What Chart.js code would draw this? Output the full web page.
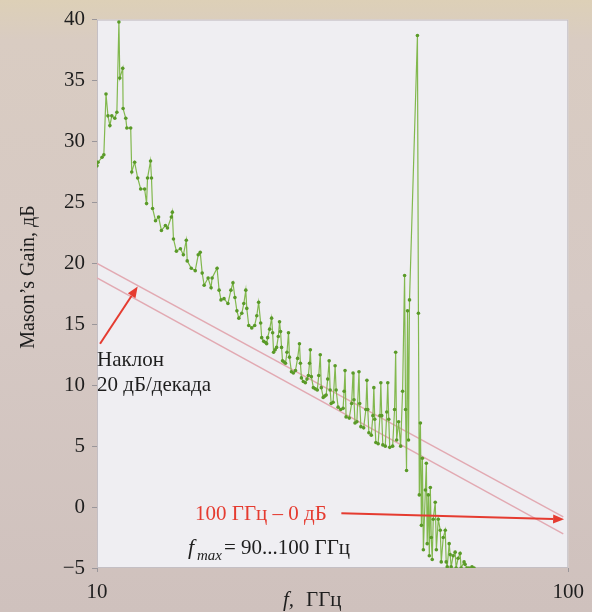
<!DOCTYPE html>
<html>
<head>
<meta charset="utf-8">
<script src="https://cdn.jsdelivr.net/npm/chart.js@4"></script>
<style>
  html, body { margin: 0; padding: 0; }
  body {
    width: 592px; height: 612px; overflow: hidden;
    background: linear-gradient(#ddd0b7 0px, #d9ccc2 40px, #d6c9c4 300px, #cfc1bd 612px);
  }
  #wrap { position: relative; width: 592px; height: 612px; }
</style>
</head>
<body>
<div id="wrap"><canvas id="gainChart" width="592" height="612"></canvas></div>
<script>
// Mason's gain vs frequency
const freqGHz = [
  10.0, 10.05, 10.25, 10.34, 10.45, 10.55, 10.65, 10.75, 10.91, 11.02,
  11.13, 11.18, 11.34, 11.36, 11.51, 11.57, 11.79, 11.85, 12.02, 12.20,
  12.38, 12.62, 12.74, 12.80, 12.99, 13.05, 13.12, 13.31, 13.51, 13.70,
  13.97, 14.11, 14.38, 14.45, 14.53, 14.74, 15.03, 15.25, 15.47, 15.54,
  15.85, 16.16, 16.40, 16.56, 16.72, 16.88, 17.21, 17.46, 17.55, 17.98,
  18.16, 18.33, 18.60, 18.96, 19.24, 19.43, 19.62, 19.81, 20.00, 20.29,
  20.49, 20.69, 20.79, 20.99, 21.30, 21.61, 21.83, 22.03, 22.25, 22.36,
  22.58, 22.80, 22.91, 23.02, 23.25, 23.47, 23.59, 23.70, 23.88, 24.05,
  24.25, 24.40, 24.52, 24.64, 24.76, 24.95, 25.12, 25.30, 25.49, 25.61,
  25.86, 26.10, 26.37, 26.65, 26.89, 27.02, 27.15, 27.40, 27.68, 27.90,
  28.09, 28.25, 28.36, 28.50, 28.78, 29.05, 29.34, 29.55, 29.77, 29.92,
  30.20, 30.42, 30.64, 30.87, 31.09, 31.24, 31.40, 31.70, 32.01, 32.17,
  32.48, 32.90, 33.28, 33.45, 33.60, 33.77, 34.30, 34.70, 34.94, 35.10,
  35.28, 35.60, 35.97, 36.10, 36.31, 36.80, 37.20, 37.39, 37.55, 37.75,
  38.20, 38.50, 38.68, 38.85, 39.06, 39.50, 39.85, 40.02, 40.20, 40.41,
  40.90, 41.20, 41.40, 41.60, 41.80, 42.40, 42.80, 43.03, 43.24, 43.66,
  44.09, 44.51, 44.95, 45.16, 45.38, 45.60, 45.82, 46.04, 47.86, 48.09,
  48.30, 48.56, 48.80, 49.03, 49.27, 49.75, 49.99, 50.20, 50.48, 50.72,
  50.97, 51.20, 51.45, 51.70, 52.21, 52.50, 52.99, 53.51, 53.77, 54.29,
  54.83, 55.08, 55.36, 55.89, 56.16, 56.43, 56.98, 57.54, 57.82, 58.38,
  58.95, 59.24, 60.10, 60.39, 60.98, 61.58, 62.48, 63.10
];

const gainDb = [
  28.0, 28.3, 28.7, 28.9, 33.9, 32.1, 31.3, 32.1, 31.9, 32.4,
  39.8, 35.2, 36.0, 32.7, 31.9, 31.1, 31.1, 27.5, 28.3, 27.0,
  26.1, 26.1, 24.9, 27.0, 28.4, 27.0, 24.5, 23.5, 23.8, 22.7,
  23.1, 22.9, 23.8, 24.2, 22.0, 21.0, 21.2, 20.7, 21.9, 20.2,
  19.6, 19.4, 20.7, 20.9, 19.2, 18.2, 18.8, 18.0, 18.8, 19.6,
  17.8, 17.0, 17.1, 16.7, 17.8, 18.4, 17.2, 16.1, 15.5, 15.9,
  16.7, 17.8, 16.3, 14.9, 14.7, 14.9, 15.7, 16.8, 15.1, 13.9,
  13.6, 13.5, 13.4, 13.9, 14.6, 15.5, 14.3, 12.7, 12.9, 13.1,
  14.0, 15.2, 14.4, 13.1, 12.0, 11.9, 11.8, 12.7, 14.3, 12.3,
  11.1, 11.0, 11.2, 12.2, 13.4, 11.8, 10.6, 10.3, 10.2, 10.5,
  10.8, 11.8, 12.9, 10.7, 9.8, 9.7, 9.6, 10.8, 12.5, 9.8,
  9.0, 9.1, 9.2, 10.5, 12.0, 9.6, 8.5, 8.6, 11.6, 9.6,
  8.2, 8.0, 8.1, 9.5, 11.2, 7.4, 7.3, 8.5, 11.0, 8.8,
  6.9, 7.0, 11.1, 8.5, 6.6, 6.5, 8.0, 10.4, 8.0, 6.1,
  5.9, 7.5, 9.8, 7.2, 5.3, 5.2, 7.5, 10.2, 7.5, 5.1,
  5.0, 7.8, 10.2, 7.2, 4.9, 5.0, 8.0, 12.7, 5.5, 7.0,
  5.0, 9.5, 19.0, 8.0, 3.0, 16.1, 5.5, 17.0, 38.7, 15.9,
  1.0, 6.9, -1.5, 4.0, -3.5, 1.4, 3.6, -3.0, 1.0, -4.0,
  1.6, -2.5, -4.3, -1.0, 0.4, -3.5, -1.0, -1.9, -4.5, -2.5,
  -1.9, -4.5, -4.9, -3.0, -3.9, -4.9, -4.0, -3.7, -5.0, -4.2,
  -3.8, -5.0, -4.5, -4.7, -5.0, -5.0, -4.9, -5.0
];

// two -20 dB/decade guide lines: [GHz, dB]
const slopeUpper = [[10, 20.0], [97.6, -0.8]];
const slopeLower = [[10, 18.8], [97.6, -2.2]];

// red arrows: [from, to] in [GHz, dB]
const slopeArrow = [[10.15, 13.4], [12.2, 18.1]];
const zeroArrow = [[33.0, -0.5], [98.0, -1.0]];

const xTickValues = [10, 100];
const yMin = -5, yMax = 40, yStep = 5;

const serif = '"Liberation Serif", "DejaVu Serif", serif';
const red = '#e53b30';

const toPoints = (pairs) => pairs.map(p => ({ x: p[0], y: p[1] }));

const gainPoints = [];
for (let i = 0; i < Math.min(freqGHz.length, gainDb.length); i++) {
  gainPoints.push({ x: freqGHz[i], y: gainDb[i] });
}

const drawArrow = (ctx, x1, y1, x2, y2, color) => {
  const ang = Math.atan2(y2 - y1, x2 - x1);
  const head = 11, half = 4.5;
  ctx.strokeStyle = color;
  ctx.fillStyle = color;
  ctx.lineWidth = 2;
  ctx.beginPath();
  ctx.moveTo(x1, y1);
  ctx.lineTo(x2 - head * Math.cos(ang), y2 - head * Math.sin(ang));
  ctx.stroke();
  ctx.beginPath();
  ctx.moveTo(x2, y2);
  ctx.lineTo(x2 - head * Math.cos(ang) + half * Math.sin(ang), y2 - head * Math.sin(ang) - half * Math.cos(ang));
  ctx.lineTo(x2 - head * Math.cos(ang) - half * Math.sin(ang), y2 - head * Math.sin(ang) + half * Math.cos(ang));
  ctx.closePath();
  ctx.fill();
};

// plot background
const plotBackground = {
  id: 'plotBackground',
  beforeDraw(chart) {
    const { ctx, chartArea: a } = chart;
    ctx.save();
    ctx.fillStyle = '#efeef2';
    ctx.fillRect(a.left, a.top, a.right - a.left, a.bottom - a.top);
    ctx.strokeStyle = '#c4bfc4';
    ctx.lineWidth = 1;
    ctx.strokeRect(a.left + 0.5, a.top + 0.5, a.right - a.left - 1, a.bottom - a.top - 1);
    ctx.restore();
  }
};

// arrows, labels and axis titles
const notes = {
  id: 'notes',
  afterDatasetsDraw(chart) {
    const { ctx, scales: { x, y } } = chart;
    ctx.save();
    drawArrow(ctx, x.getPixelForValue(slopeArrow[0][0]), y.getPixelForValue(slopeArrow[0][1]),
      x.getPixelForValue(slopeArrow[1][0]), y.getPixelForValue(slopeArrow[1][1]), red);
    drawArrow(ctx, x.getPixelForValue(zeroArrow[0][0]), y.getPixelForValue(zeroArrow[0][1]),
      x.getPixelForValue(zeroArrow[1][0]), y.getPixelForValue(zeroArrow[1][1]), red);

    ctx.textBaseline = 'middle';
    ctx.textAlign = 'left';
    ctx.fillStyle = '#1e1e1e';
    ctx.font = '21px ' + serif;
    ctx.fillText('Наклон', 97, 360);
    ctx.fillText('20 дБ/декада', 97, 385);

    ctx.fillStyle = red;
    ctx.fillText('100 ГГц – 0 дБ', 195, 514);

    ctx.fillStyle = '#1e1e1e';
    ctx.font = 'italic 22px ' + serif;
    ctx.fillText('f', 188, 548);
    ctx.font = 'italic 15px ' + serif;
    ctx.fillText('max', 197, 556);
    ctx.font = '21px ' + serif;
    ctx.fillText('= 90...100 ГГц', 224, 548);

    // x title
    ctx.font = 'italic 21px ' + serif;
    ctx.fillText('f,', 283, 600);
    ctx.font = '21px ' + serif;
    ctx.fillText('ГГц', 306, 600);

    // y title
    ctx.translate(29, 277);
    ctx.rotate(-Math.PI / 2);
    ctx.textAlign = 'center';
    ctx.font = '20px ' + serif;
    ctx.fillText('Mason\u2019s Gain, дБ', 0, 0);
    ctx.restore();
  }
};

const ctx = document.getElementById('gainChart').getContext('2d');
new Chart(ctx, {
  type: 'line',
  data: {
    datasets: [
      {
        data: gainPoints,
        borderColor: '#82b84e',
        borderWidth: 1.2,
        pointRadius: 1.8,
        pointBackgroundColor: '#5a9a28',
        pointBorderWidth: 0,
        tension: 0
      },
      {
        data: toPoints(slopeUpper),
        borderColor: '#e2a9b2',
        borderWidth: 1.4,
        pointRadius: 0
      },
      {
        data: toPoints(slopeLower),
        borderColor: '#e2a9b2',
        borderWidth: 1.4,
        pointRadius: 0
      }
    ]
  },
  options: {
    responsive: false,
    animation: false,
    layout: { padding: { left: 0, right: 20, top: 18, bottom: 0 } },
    plugins: {
      legend: { display: false },
      tooltip: { enabled: false }
    },
    scales: {
      x: {
        type: 'logarithmic',
        min: 10,
        max: 100,
        afterFit: (scale) => { scale.height = 44; },
        afterBuildTicks: (scale) => { scale.ticks = xTickValues.map(v => ({ value: v })); },
        grid: { drawOnChartArea: false, tickLength: 4, color: '#9a969a' },
        border: { display: false },
        ticks: {
          color: '#1e1e1e',
          font: { family: serif, size: 21 },
          padding: 8,
          maxRotation: 0,
          autoSkip: false,
          callback: (v) => String(v)
        }
      },
      y: {
        min: yMin,
        max: yMax,
        afterFit: (scale) => { scale.width = 97; },
        grid: { drawOnChartArea: false, tickLength: 5, color: '#9a969a' },
        border: { display: false },
        ticks: {
          stepSize: yStep,
          color: '#1e1e1e',
          font: { family: serif, size: 21 },
          padding: 7,
          callback: (v) => (v < 0 ? '\u2212' + Math.abs(v) : String(v))
        }
      }
    }
  },
  plugins: [plotBackground, notes]
});
</script>
</body>
</html>
